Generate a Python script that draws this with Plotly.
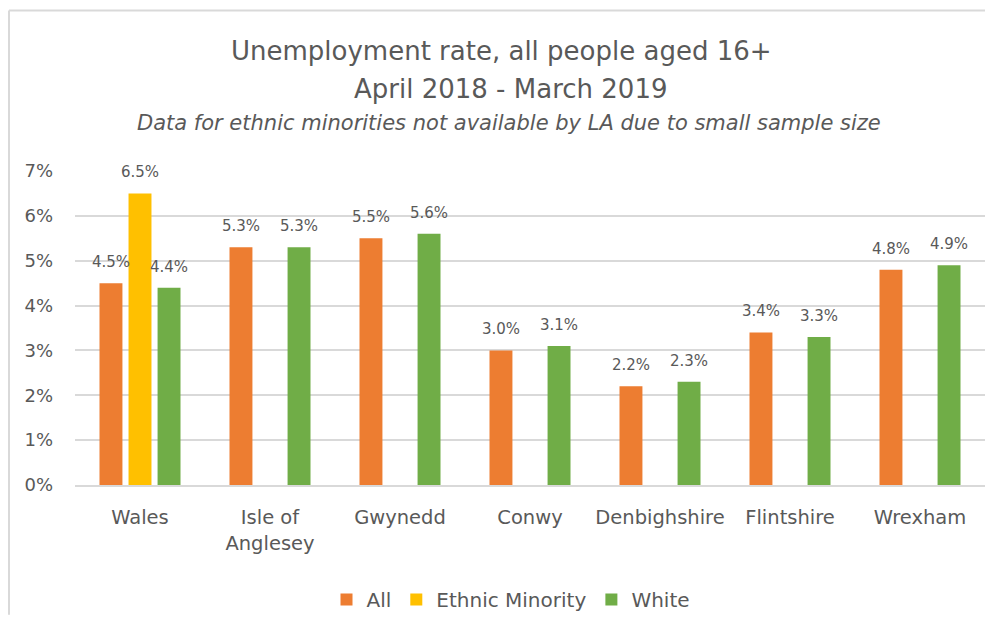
import plotly.graph_objects as go

categories = ["Wales", "Isle of<br>Anglesey", "Gwynedd", "Conwy", "Denbighshire", "Flintshire", "Wrexham"]
all_people = [4.5, 5.3, 5.5, 3.0, 2.2, 3.4, 4.8]
ethnic_minority = [6.5, None, None, None, None, None, None]
white = [4.4, 5.3, 5.6, 3.1, 2.3, 3.3, 4.9]
series_names = ["All", "Ethnic Minority", "White"]
y_ticks = [0, 1, 2, 3, 4, 5, 6, 7]

colors = ["#ED7D31", "#FFC000", "#70AD47"]
FONT = "DejaVu Sans"
TXT = "#595959"

OFF = 8  # page offset of the figure in the window
W, H = 977, 611
L, R, T, B = 67, 0, 163, 131
pw, ph = W - L - R, H - T - B

def px_x(x):
    return (x - OFF - L) / pw

def px_y(y):
    return (H - B - (y - OFF)) / ph

fig = go.Figure()
series = [all_people, ethnic_minority, white]
for name, vals, col in zip(series_names, series, colors):
    fig.add_trace(go.Bar(x=categories, y=vals, name=name, marker=dict(color=col, line=dict(width=0))))

pitch = 0.67 / 3 * pw / len(categories)
annotations = []
for i, vals in enumerate(series):
    for c, v in zip(categories, vals):
        if v is None:
            continue
        annotations.append(dict(x=c, y=v, xref="x", yref="y", text=f"{v:.1f}%", showarrow=False,
                                xshift=(i - 1) * pitch, yshift=21, yanchor="middle",
                                font=dict(family=FONT, size=15, color=TXT)))

annotations += [
    dict(x=px_x(501), y=px_y(50), xref="paper", yref="paper", text="Unemployment rate, all people aged 16+",
         showarrow=False, xanchor="center", yanchor="middle", font=dict(family=FONT, size=26, color=TXT)),
    dict(x=px_x(510), y=px_y(88), xref="paper", yref="paper", text="April 2018 - March 2019",
         showarrow=False, xanchor="center", yanchor="middle", font=dict(family=FONT, size=26, color=TXT)),
    dict(x=px_x(509), y=px_y(123), xref="paper", yref="paper",
         text="Data for ethnic minorities not available by LA due to small sample size",
         showarrow=False, xanchor="center", yanchor="middle",
         font=dict(family=FONT, size=21, color=TXT, style="italic")),
]

x_left = -L / pw + 1 / pw
y_top = (H - B - 1) / ph
border = dict(color="#D9D9D9", width=2)

fig.update_layout(
    width=W, height=H,
    margin=dict(l=L, r=R, t=T, b=B),
    paper_bgcolor="white", plot_bgcolor="white",
    barmode="group", bargap=0.33, bargroupgap=0.21,
    font=dict(family=FONT, color=TXT),
    annotations=annotations,
    showlegend=True,
    legend=dict(orientation="h", x=px_x(511), xanchor="center", y=px_y(604), yanchor="middle",
                font=dict(family=FONT, size=20, color=TXT), itemwidth=30, traceorder="normal"),
    shapes=[
        dict(type="line", xref="paper", yref="paper", x0=x_left, x1=1.0, y0=y_top, y1=y_top, line=border),
        dict(type="line", xref="paper", yref="paper", x0=x_left, x1=x_left, y0=-B / ph, y1=y_top, line=border),
    ],
)
fig.update_yaxes(range=[0, 7], tickvals=y_ticks, ticktext=[f"{t}%" for t in y_ticks],
                 showgrid=True, gridcolor="#D9D9D9", gridwidth=1.5, zeroline=False, showline=False,
                 tickfont=dict(family=FONT, size=18, color=TXT), ticklabelstandoff=21)
fig.update_xaxes(showline=True, linecolor="#D9D9D9", linewidth=1.5, showgrid=False,
                 tickfont=dict(family=FONT, size=19.5, color=TXT), ticklabelstandoff=14)

fig.write_html("out.html")
